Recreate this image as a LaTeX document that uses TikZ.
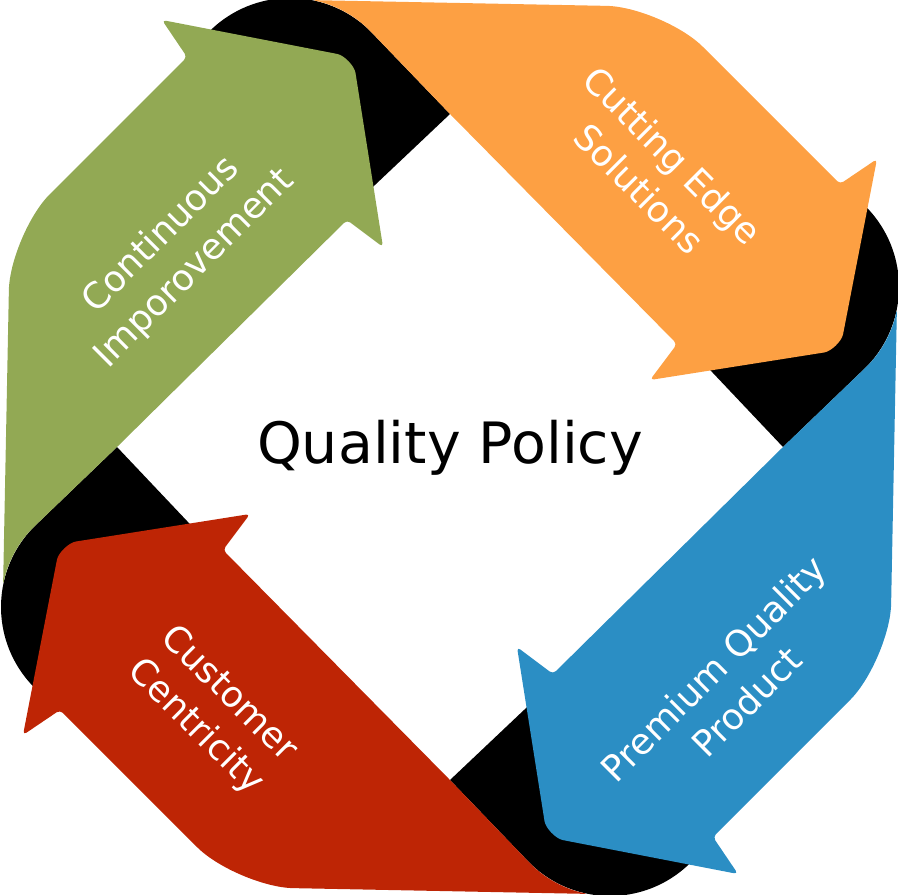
\documentclass[tikz,border=0pt]{standalone}
\usepackage{fontspec}
\setmainfont{DejaVu Sans}
\definecolor{cgreen}{RGB}{146,169,84}
\definecolor{corange}{RGB}{253,160,67}
\definecolor{cblue}{RGB}{43,142,196}
\definecolor{cred}{RGB}{190,37,5}
\begin{document}
\begin{tikzpicture}[x=1pt,y=-1pt,
  capfill/.style={fill=black},
  arrowbody/.style={rounded corners=4pt},
  lbl/.style={text=white, align=center, inner sep=0pt, font=\fontsize{36}{47}\selectfont},
  title/.style={text=black, inner sep=0pt, font=\fontsize{57}{68}\selectfont}]
\useasboundingbox (0,0) rectangle (898,895);
% black corner caps (behind the arrows)
\foreach \r in {0,-90,-180,-270}{
  \begin{scope}[rotate around={\r:(450,447)}]
    \fill[capfill] (205,540) -- plot[domain=100:225,variable=\a,samples=60] ({115+114*cos(\a)},{607+114*sin(\a)}) -- (117,447) -- cycle;
  \end{scope}
}
% four arrows
\foreach \r/\c in {0/cgreen,-90/corange,-180/cblue,-270/cred}{
  \begin{scope}[rotate around={\r:(450,447)}]
    \fill[\c, arrowbody] (117,447) -- (347,220) -- (383,247) -- (356.1,76.8)
      .. controls (354.4,65.9) and (344.2,55.3) .. (333.4,53.2)
      -- (162,20) -- (187,57) -- (52.4,191.6)
      .. controls (29.1,214.9) and (9.5,261) .. (8.8,294)
      -- (3.1,585.2)
      .. controls (7.4,562.9) and (18.4,542.5) .. (34.4,526.4) -- cycle;
  \end{scope}
}
% labels
\node[lbl, rotate=45]  (ci) at (178,252) {Continuous\\Imporovement};
\node[lbl, rotate=-45] (ce) at (656,172) {Cutting Edge\\Solutions};
\node[lbl, rotate=45]  (pq) at (730,685) {Premium Quality\\Product};
\node[lbl, rotate=-45] (cc) at (212,711) {Customer\\Centricity};
\node[title, anchor=base] (qp) at (450,463) {Quality Policy};
\end{tikzpicture}
\end{document}
